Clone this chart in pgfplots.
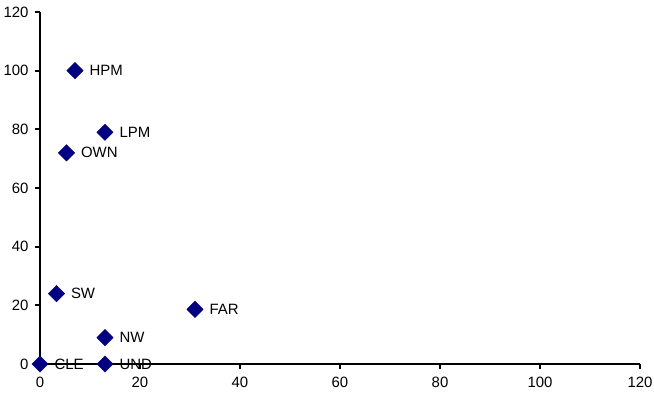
\documentclass[border=0pt]{standalone}
\usepackage{fontspec}
\setmainfont{Liberation Sans}
\usepackage{pgfplots}
\pgfplotsset{compat=1.18}
\definecolor{navyblue}{HTML}{000080}
\begin{document}
\begin{tikzpicture}
\begin{axis}[
  at={(0,0)}, anchor=south west,
  scale only axis, width=600bp, height=352bp,
  xmin=0, xmax=120, ymin=0, ymax=120,
  axis lines*=left,
  xtick={0,20,...,120}, ytick={0,20,...,120},
  tick align=outside, major tick length=5bp,
  tick style={black, line width=2bp},
  axis line style={black, line width=2bp},
  tick label style={font=\fontsize{15}{18}\selectfont},
  /pgf/number format/assume math mode=true,
  xticklabel style={yshift=-5bp},
  yticklabel style={xshift=-3bp},
  clip=false,
]
\addplot[only marks, mark=square*, mark size=5.8bp,
  mark options={rotate=45, fill=navyblue, draw=navyblue},
  nodes near coords, point meta=explicit symbolic,
  nodes near coords style={anchor=west, xshift=11bp, font=\fontsize{15}{18}\selectfont, text=black}]
  table[meta=label] {
x y label
7 100 HPM
13 79 LPM
5.3 72 OWN
3.3 24 SW
31 18.6 FAR
13 9 NW
0 0 CLE
13 0 UND
};
\end{axis}
\pgfresetboundingbox
\path (-40bp,-33bp) rectangle (614bp,364bp);
\end{tikzpicture}
\end{document}
